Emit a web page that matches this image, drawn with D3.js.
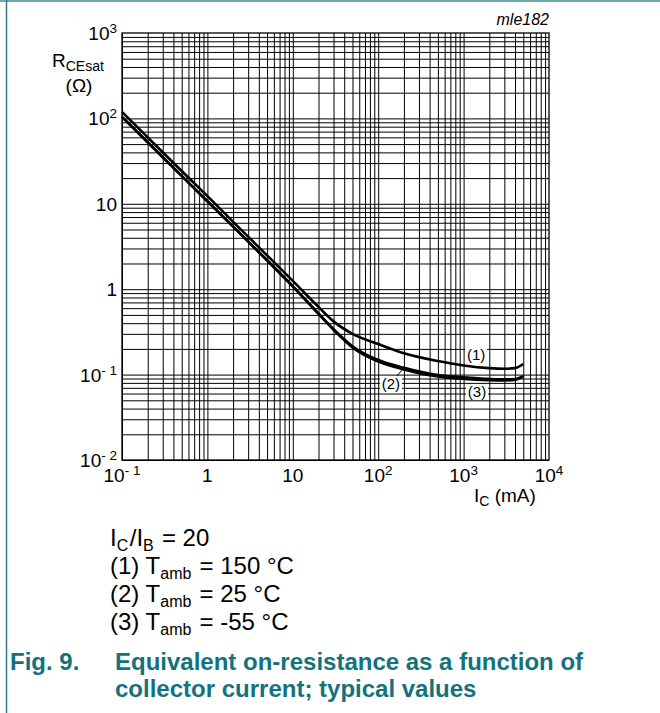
<!DOCTYPE html>
<html>
<head>
<meta charset="utf-8">
<script src="https://cdn.jsdelivr.net/npm/d3@7"></script>
<style>
  body { margin: 0; background: #fff; }
  svg { display: block; font-family: "Liberation Sans", Arial, sans-serif; }
</style>
</head>
<body>
<svg id="chart" width="660" height="713"></svg>
<script>
// collector current (mA) and R_CEsat (ohm)
const currentMA = [0.1, 0.2, 0.5, 1, 2, 5, 10, 20, 30, 50, 100, 200, 500, 1000, 2000, 3000, 4000, 5000]
const r150 = [119, 60, 24.2, 12.3, 6.15, 2.49, 1.25, 0.62, 0.42, 0.30, 0.228, 0.178, 0.144, 0.128, 0.119, 0.117, 0.119, 0.133]
const r25 = [104, 52.5, 21.2, 10.7, 5.4, 2.18, 1.08, 0.52, 0.34, 0.215, 0.148, 0.12, 0.099, 0.093, 0.089, 0.088, 0.089, 0.096]
const rm55 = [104, 52.5, 21.2, 10.7, 5.4, 2.18, 1.08, 0.515, 0.335, 0.208, 0.142, 0.115, 0.095, 0.089, 0.086, 0.0855, 0.0865, 0.095]

const xTicks = [0.1, 1, 10, 100, 1000, 10000]
const xTickBase = ['10', '1', '10', '10', '10', '10']
const xTickExp = ['- 1', '', '', '2', '3', '4']
const yTicks = [0.01, 0.1, 1, 10, 100, 1000]
const yTickBase = ['10', '10', '1', '10', '10', '10']
const yTickExp = ['- 2', '- 1', '', '', '2', '3']

// curve labels: [text, current, resistance]
const curveLabels = [['(1)', 1400, 0.17], ['(2)', 141, 0.0776], ['(3)', 1435, 0.0625]]

const legendLines = [
  ['', 'I', 'C', '/I', 'B', ' = 20'],
  ['(1) ', 'T', 'amb', ' = 150 °C', '', ''],
  ['(2) ', 'T', 'amb', ' = 25 °C', '', ''],
  ['(3) ', 'T', 'amb', ' = -55 °C', '', '']
]

const svg = d3.select('#chart')
const margin = { top: 33, right: 111, bottom: 253, left: 122 }
const width = 660 - margin.left - margin.right
const height = 713 - margin.top - margin.bottom

const x = d3.scaleLog().domain([0.1, 1e4]).range([margin.left, margin.left + width])
const y = d3.scaleLog().domain([0.01, 1000]).range([margin.top + height, margin.top])

// frame
svg.append('line').attr('x1', 0).attr('x2', 660).attr('y1', 1).attr('y2', 1)
  .attr('stroke', '#6fa9ae').attr('stroke-width', 2)
svg.append('line').attr('x1', 6.5).attr('x2', 6.5).attr('y1', 0).attr('y2', 713)
  .attr('stroke', '#2b7c84').attr('stroke-width', 1.5)

// grid, 1..9 in every decade
const gridX = []
for (let d = -1; d < 4; d++) for (let k = 1; k < 10; k++) gridX.push(k * Math.pow(10, d))
const gridY = []
for (let d = -2; d < 3; d++) for (let k = 1; k < 10; k++) gridY.push(k * Math.pow(10, d))

svg.append('g')
  .attr('transform', `translate(0,${margin.top + height})`)
  .call(d3.axisBottom(x).tickValues(gridX).tickSize(-height).tickFormat(''))
  .call(g => g.select('.domain').remove())
  .call(g => g.selectAll('line').attr('stroke', '#000').attr('stroke-width', 1))

svg.append('g')
  .attr('transform', `translate(${margin.left},0)`)
  .call(d3.axisLeft(y).tickValues(gridY).tickSize(-width).tickFormat(''))
  .call(g => g.select('.domain').remove())
  .call(g => g.selectAll('line').attr('stroke', '#000').attr('stroke-width', 1))

svg.append('rect')
  .attr('x', margin.left).attr('y', margin.top)
  .attr('width', width).attr('height', height)
  .attr('fill', 'none').attr('stroke', '#000').attr('stroke-width', 1.3)

// tick labels
const xl = svg.append('g').attr('font-size', 19).attr('text-anchor', 'middle')
xTicks.forEach((v, i) => {
  const t = xl.append('text').attr('x', x(v)).attr('y', margin.top + height + 22)
  t.append('tspan').text(xTickBase[i])
  if (xTickExp[i]) t.append('tspan').attr('font-size', 13.5).attr('dy', -7).text(xTickExp[i])
})

const yl = svg.append('g').attr('font-size', 19).attr('text-anchor', 'end')
yTicks.forEach((v, i) => {
  const t = yl.append('text').attr('x', margin.left - 5).attr('y', y(v) + 7)
  t.append('tspan').text(yTickBase[i])
  if (yTickExp[i]) t.append('tspan').attr('font-size', 13.5).attr('dy', -7).text(yTickExp[i])
})

// axis titles
const yt = svg.append('text').attr('x', 52).attr('y', 67).attr('font-size', 19)
yt.append('tspan').text('R')
yt.append('tspan').attr('font-size', 14).attr('dy', 4).text('CEsat')
svg.append('text').attr('x', 79).attr('y', 92).attr('font-size', 19)
  .attr('text-anchor', 'middle').text('(Ω)')

const xt = svg.append('text').attr('x', 474).attr('y', 502).attr('font-size', 19)
xt.append('tspan').text('I')
xt.append('tspan').attr('font-size', 14).attr('dy', 4).text('C')
xt.append('tspan').attr('dy', -4).text(' (mA)')

svg.append('text').attr('x', margin.left + width).attr('y', 25)
  .attr('text-anchor', 'end').attr('font-size', 16).attr('font-style', 'italic').text('mle182')

// curves
const line = d3.line().x(d => x(d[0])).y(d => y(d[1])).curve(d3.curveMonotoneX)
const series = [r150, r25, rm55]
series.forEach(s => {
  svg.append('path')
    .datum(currentMA.map((c, i) => [c, s[i]]))
    .attr('d', line)
    .attr('fill', 'none').attr('stroke', '#000').attr('stroke-width', 2.6)
    .attr('stroke-linejoin', 'round')
})

// curve labels on a white patch
curveLabels.forEach(([txt, c, r]) => {
  svg.append('rect').attr('x', x(c) - 11).attr('y', y(r) - 8)
    .attr('width', 22).attr('height', 16).attr('fill', '#fff')
  svg.append('text').attr('x', x(c)).attr('y', y(r)).attr('dy', '0.36em')
    .attr('text-anchor', 'middle').attr('font-size', 15).text(txt)
})
svg.append('line')
  .attr('x1', x(166)).attr('y1', y(0.0964))
  .attr('x2', x(200)).attr('y2', y(0.12))
  .attr('stroke', '#000').attr('stroke-width', 1)

// conditions
const lg = svg.append('g').attr('font-size', 24)
legendLines.forEach((p, i) => {
  const t = lg.append('text').attr('x', 110).attr('y', 546 + i * 28)
  t.append('tspan').text(p[0] + p[1])
  t.append('tspan').attr('font-size', 16).attr('dy', 5).text(p[2])
  t.append('tspan').attr('dy', -5).attr('dx', 1.5).text(p[3])
  if (p[4]) {
    t.append('tspan').attr('font-size', 16).attr('dy', 5).text(p[4])
    t.append('tspan').attr('dy', -5).attr('dx', 1.5).text(p[5])
  }
})

// caption
const cap = svg.append('g').attr('font-size', 24).attr('font-weight', 'bold').attr('fill', '#14727c')
cap.append('text').attr('x', 10).attr('y', 670).text('Fig. 9.')
cap.append('text').attr('x', 115).attr('y', 670).text('Equivalent on-resistance as a function of')
cap.append('text').attr('x', 115).attr('y', 697).text('collector current; typical values')
</script>
</body>
</html>
